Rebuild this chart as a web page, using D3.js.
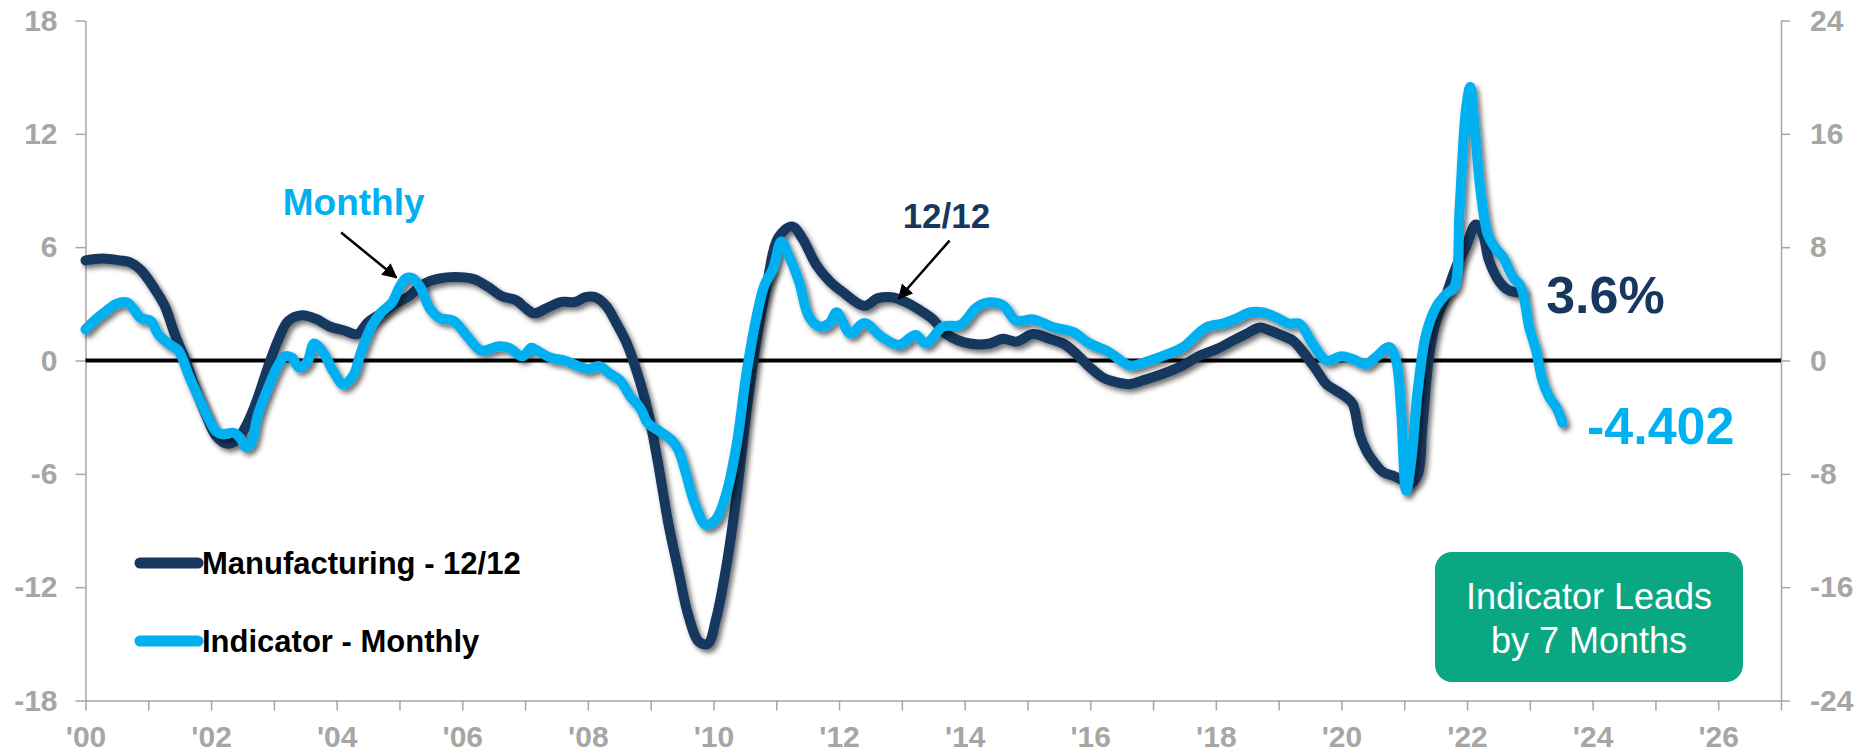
<!DOCTYPE html>
<html>
<head>
<meta charset="utf-8">
<script src="https://cdn.jsdelivr.net/npm/d3@7"></script>
<style>
  html, body { margin: 0; padding: 0; background: #fff; }
  svg { display: block; font-family: "Liberation Sans", Arial, sans-serif; }
</style>
</head>
<body>
<div class="chart"></div>
<script>
// ~~~ data (decimal years) ~~~
var mfgYears = [2000.0, 2000.27, 2000.55, 2000.71, 2000.88, 2001.1, 2001.26, 2001.42, 2001.59, 2001.75, 2001.92,
  2002.08, 2002.25, 2002.41, 2002.58, 2002.74, 2002.9, 2003.07, 2003.23, 2003.45, 2003.67, 2003.89,
  2004.11, 2004.33, 2004.49, 2004.71, 2004.93, 2005.15, 2005.32, 2005.48, 2005.75, 2006.03, 2006.19,
  2006.41, 2006.63, 2006.85, 2007.0, 2007.14, 2007.36, 2007.58, 2007.8, 2007.96, 2008.12, 2008.29,
  2008.45, 2008.62, 2008.78, 2008.95, 2009.11, 2009.28, 2009.44, 2009.6, 2009.77, 2009.91, 2010.04,
  2010.21, 2010.37, 2010.53, 2010.7, 2010.86, 2011.03, 2011.25, 2011.41, 2011.63, 2011.85, 2012.07,
  2012.4, 2012.62, 2012.84, 2013.06, 2013.27, 2013.49, 2013.71, 2014.08, 2014.4, 2014.61, 2014.82,
  2015.09, 2015.35, 2015.57, 2015.78, 2015.99, 2016.2, 2016.41, 2016.63, 2016.84, 2017.16, 2017.48,
  2017.74, 2018.01, 2018.27, 2018.48, 2018.7, 2018.85, 2019.07, 2019.23, 2019.39, 2019.6, 2019.76,
  2019.92, 2020.08, 2020.18, 2020.29, 2020.4, 2020.5, 2020.66, 2020.82, 2020.98, 2021.11, 2021.22,
  2021.29, 2021.4, 2021.51, 2021.67, 2021.82, 2021.98, 2022.14, 2022.25, 2022.35, 2022.51, 2022.67, 2022.86];
var mfgValues = [5.3, 5.4, 5.3, 5.2, 4.8, 3.8, 2.9, 1.4, 0.0, -1.5, -2.9,
  -4.0, -4.4, -4.2, -3.3, -2.0, -0.4, 1.1, 2.1, 2.4, 2.2, 1.8,
  1.6, 1.4, 2.0, 2.5, 3.0, 3.4, 3.9, 4.2, 4.4, 4.4, 4.3,
  3.9, 3.4, 3.2, 2.8, 2.5, 2.8, 3.1, 3.1, 3.35, 3.35, 2.9,
  2.0, 0.9, -0.6, -2.6, -5.3, -8.6, -11.1, -13.5, -14.9, -15.0, -13.7,
  -10.8, -7.1, -2.6, 1.4, 4.2, 6.5, 7.1, 6.5, 5.1, 4.2, 3.6,
  2.9, 3.3, 3.35, 3.1, 2.7, 2.2, 1.4, 0.9, 0.9, 1.15, 1.0,
  1.4, 1.15, 0.9, 0.35, -0.35, -0.9, -1.15, -1.25, -1.05, -0.7, -0.25,
  0.25, 0.6, 1.05, 1.4, 1.75, 1.6, 1.3, 1.05, 0.45, -0.5, -1.25,
  -1.6, -1.95, -2.3, -3.9, -4.8, -5.3, -5.9, -6.1, -6.35, -6.5, -6.0,
  -3.5, 0.35, 2.1, 3.5, 4.9, 6.0, 7.2, 6.7, 5.3, 4.2, 3.7, 3.6];

var indYears = [2000.0, 2000.16, 2000.33, 2000.49, 2000.66, 2000.77, 2000.88, 2001.04, 2001.15, 2001.32, 2001.48,
  2001.64, 2001.81, 2001.97, 2002.08, 2002.19, 2002.36, 2002.47, 2002.55, 2002.63, 2002.74, 2002.9,
  2003.07, 2003.18, 2003.29, 2003.4, 2003.53, 2003.64, 2003.78, 2003.95, 2004.11, 2004.27, 2004.38,
  2004.55, 2004.71, 2004.88, 2004.99, 2005.1, 2005.21, 2005.34, 2005.48, 2005.64, 2005.86, 2006.08,
  2006.3, 2006.58, 2006.74, 2006.96, 2007.1, 2007.19, 2007.41, 2007.63, 2007.85, 2008.01, 2008.18,
  2008.34, 2008.51, 2008.67, 2008.84, 2008.95, 2009.11, 2009.33, 2009.44, 2009.55, 2009.71, 2009.88,
  2010.04, 2010.21, 2010.37, 2010.53, 2010.7, 2010.81, 2010.95, 2011.08, 2011.19, 2011.36, 2011.52,
  2011.69, 2011.85, 2011.96, 2012.18, 2012.4, 2012.67, 2012.95, 2013.22, 2013.38, 2013.66, 2013.93,
  2014.19, 2014.37, 2014.61, 2014.82, 2015.09, 2015.41, 2015.73, 2015.99, 2016.26, 2016.41, 2016.63,
  2016.95, 2017.26, 2017.48, 2017.85, 2018.11, 2018.32, 2018.54, 2018.75, 2018.96, 2019.17, 2019.33,
  2019.54, 2019.76, 2020.0, 2020.18, 2020.39, 2020.55, 2020.76, 2020.87, 2020.95, 2021.03, 2021.11,
  2021.22, 2021.35, 2021.51, 2021.67, 2021.8, 2021.88, 2021.98, 2022.05, 2022.12, 2022.22, 2022.33,
  2022.44, 2022.57, 2022.73, 2022.86, 2022.99, 2023.1, 2023.2, 2023.31, 2023.42, 2023.52];
var indValues = [2.2, 2.9, 3.5, 4.0, 4.1, 3.6, 3.0, 2.8, 1.9, 1.2, 0.7,
  -1.0, -2.7, -4.2, -5.0, -5.2, -5.1, -5.5, -6.1, -5.9, -3.9, -2.0,
  -0.3, 0.3, 0.2, -0.5, -0.1, 1.2, 0.6, -0.8, -1.7, -1.0, 0.5,
  2.4, 3.4, 4.1, 5.1, 5.8, 5.8, 5.1, 3.7, 3.0, 2.8, 1.7,
  0.7, 1.0, 0.9, 0.3, 0.9, 0.7, 0.2, 0.0, -0.4, -0.6, -0.4,
  -0.9, -1.4, -2.5, -3.4, -4.4, -4.9, -5.6, -6.3, -7.8, -10.2, -11.6,
  -11.2, -9.3, -5.9, -0.75, 3.4, 5.3, 6.5, 8.4, 7.5, 5.6, 3.1,
  2.4, 2.65, 3.4, 1.9, 2.65, 1.7, 1.1, 1.8, 1.2, 2.4, 2.5,
  3.75, 4.1, 3.9, 2.8, 2.9, 2.35, 2.0, 1.2, 0.7, 0.25, -0.35,
  0.0, 0.5, 0.95, 2.35, 2.6, 2.95, 3.4, 3.4, 3.05, 2.6, 2.6,
  1.2, 0.0, 0.3, 0.1, -0.25, 0.25, 0.95, 0.0, -3.5, -9.2, -7.1,
  -1.9, 1.9, 3.8, 4.7, 5.2, 10.6, 17.6, 19.3, 16.5, 11.8, 8.9,
  8.0, 7.3, 5.9, 5.2, 2.35, 0.7, -1.4, -2.6, -3.3, -4.402];

var leftTicks = [-18, -12, -6, 0, 6, 12, 18];
var rightTicks = [-24, -16, -8, 0, 8, 16, 24];
var xTickYears = d3.range(2000, 2028);
var xTickLabels = ["'00", "'02", "'04", "'06", "'08", "'10", "'12", "'14", "'16", "'18", "'20", "'22", "'24", "'26"];

var seriesNames = ['Manufacturing - 12/12', 'Indicator - Monthly'];
var seriesColors = ['#17375e', '#00b0f0'];
var lastLabels = ['3.6%', '-4.402'];

// ~~~ chart ~~~
var width = 1868, height = 754;
var margin = { top: 20.5, right: 87, bottom: 53.5, left: 85.5 };

var svg = d3.select('.chart')
  .append('svg')
    .attr('width', width)
    .attr('height', height);

var defs = svg.append('defs');
var shadow = defs.append('filter')
  .attr('id', 'shadow')
  .attr('x', '-5%').attr('y', '-5%')
  .attr('width', '110%').attr('height', '110%');
shadow.append('feDropShadow')
  .attr('dx', 3).attr('dy', 3.5)
  .attr('stdDeviation', 2.4)
  .attr('flood-color', '#000')
  .attr('flood-opacity', 0.55);

defs.append('marker')
  .attr('id', 'arrow')
  .attr('viewBox', '0 0 10 10')
  .attr('refX', 9).attr('refY', 5)
  .attr('markerWidth', 6).attr('markerHeight', 6)
  .attr('markerUnits', 'strokeWidth')
  .attr('orient', 'auto')
  .append('path')
    .attr('d', 'M0,0 L10,5 L0,10 z')
    .attr('fill', '#000');

var xScale = d3.scaleLinear()
  .domain([2000, 2027])
  .range([margin.left, width - margin.right]);

var yLeft = d3.scaleLinear()
  .domain([-18, 18])
  .range([height - margin.bottom, margin.top]);

var yRight = d3.scaleLinear()
  .domain([-24, 24])
  .range([height - margin.bottom, margin.top]);

var gray = '#a6a6a6';

function styleAxis(g) {
  g.selectAll('.domain').attr('stroke', gray).attr('stroke-width', 1.5);
  g.selectAll('.tick line').attr('stroke', gray).attr('stroke-width', 1.5);
  g.selectAll('.tick text')
    .attr('fill', gray)
    .style('font-size', '30px')
    .style('font-weight', 'bold')
    .style('font-family', '"Liberation Sans", Arial, sans-serif');
}

// left axis
svg.append('g')
  .attr('transform', `translate(${margin.left}, 0)`)
  .call(d3.axisLeft(yLeft).tickValues(leftTicks).tickSize(10).tickSizeOuter(0).tickPadding(18)
    .tickFormat(d => String(d)))
  .call(styleAxis);

// right axis
svg.append('g')
  .attr('transform', `translate(${width - margin.right}, 0)`)
  .call(d3.axisRight(yRight).tickValues(rightTicks).tickSize(9).tickSizeOuter(0).tickPadding(20)
    .tickFormat(d => String(d)))
  .call(styleAxis)
  .selectAll('.tick text').attr('text-anchor', 'start');

// bottom axis
svg.append('g')
  .attr('transform', `translate(0, ${height - margin.bottom})`)
  .call(d3.axisBottom(xScale)
    .tickValues(xTickYears)
    .tickSize(10)
    .tickSizeOuter(0)
    .tickPadding(15)
    .tickFormat(d => (d - 2000) % 2 === 0 ? (xTickLabels[(d - 2000) / 2] || '') : ''))
  .call(styleAxis);

// zero line
svg.append('line')
  .attr('x1', xScale(2000)).attr('x2', xScale(2027))
  .attr('y1', yLeft(0)).attr('y2', yLeft(0))
  .attr('stroke', '#000')
  .attr('stroke-width', 4);

// series
var mfgData = mfgYears.map((t, i) => ({ t: t, v: mfgValues[i] }));
var indData = indYears.map((t, i) => ({ t: t, v: indValues[i] }));

var lineLeft = d3.line()
  .x(d => xScale(d.t))
  .y(d => yLeft(d.v))
  .curve(d3.curveCatmullRom.alpha(0.5));

var lineRight = d3.line()
  .x(d => xScale(d.t))
  .y(d => yRight(d.v))
  .curve(d3.curveCatmullRom.alpha(0.5));

svg.append('path')
  .attr('d', lineLeft(mfgData))
  .attr('fill', 'none')
  .attr('stroke', seriesColors[0])
  .attr('stroke-width', 10)
  .attr('stroke-linejoin', 'round')
  .attr('stroke-linecap', 'round')
  .attr('filter', 'url(#shadow)');

svg.append('path')
  .attr('d', lineRight(indData))
  .attr('fill', 'none')
  .attr('stroke', seriesColors[1])
  .attr('stroke-width', 10)
  .attr('stroke-linejoin', 'round')
  .attr('stroke-linecap', 'round')
  .attr('filter', 'url(#shadow)');

// end labels
svg.append('text')
  .attr('x', xScale(2023.26))
  .attr('y', yLeft(2.49))
  .attr('fill', seriesColors[0])
  .style('font-size', '52px')
  .style('font-weight', 'bold')
  .text(lastLabels[0]);

svg.append('text')
  .attr('x', xScale(2023.91))
  .attr('y', yRight(-5.86))
  .attr('fill', seriesColors[1])
  .style('font-size', '52px')
  .style('font-weight', 'bold')
  .text(lastLabels[1]);

// callouts
svg.append('text')
  .attr('x', xScale(2004.27))
  .attr('y', yRight(10.3))
  .attr('text-anchor', 'middle')
  .attr('fill', seriesColors[1])
  .style('font-size', '37px')
  .style('font-weight', 'bold')
  .text('Monthly');

svg.append('line')
  .attr('x1', xScale(2004.07)).attr('y1', yRight(9.03))
  .attr('x2', xScale(2004.95)).attr('y2', yRight(5.86))
  .attr('stroke', '#000').attr('stroke-width', 2.5)
  .attr('marker-end', 'url(#arrow)');

svg.append('text')
  .attr('x', xScale(2013.71))
  .attr('y', yLeft(6.99))
  .attr('text-anchor', 'middle')
  .attr('fill', seriesColors[0])
  .style('font-size', '35px')
  .style('font-weight', 'bold')
  .text('12/12');

svg.append('line')
  .attr('x1', xScale(2013.76)).attr('y1', yLeft(6.35))
  .attr('x2', xScale(2012.95)).attr('y2', yLeft(3.28))
  .attr('stroke', '#000').attr('stroke-width', 2.5)
  .attr('marker-end', 'url(#arrow)');

// legend
var legend = svg.append('g');
seriesNames.forEach(function (name, i) {
  var y = 563 + i * 78;
  legend.append('line')
    .attr('x1', 140).attr('x2', 198)
    .attr('y1', y).attr('y2', y)
    .attr('stroke', seriesColors[i])
    .attr('stroke-width', 11)
    .attr('stroke-linecap', 'round');
  legend.append('text')
    .attr('x', 202)
    .attr('y', y + 11)
    .attr('fill', '#000')
    .style('font-size', '31px')
    .style('font-weight', 'bold')
    .text(name);
});

// note box
var box = svg.append('g');
box.append('rect')
  .attr('x', 1435).attr('y', 552)
  .attr('width', 308).attr('height', 130)
  .attr('rx', 17).attr('ry', 17)
  .attr('fill', '#0aa783');
['Indicator Leads', 'by 7 Months'].forEach(function (t, i) {
  box.append('text')
    .attr('x', 1589)
    .attr('y', 609 + i * 44)
    .attr('text-anchor', 'middle')
    .attr('fill', '#fff')
    .style('font-size', '36px')
    .text(t);
});
</script>
</body>
</html>
